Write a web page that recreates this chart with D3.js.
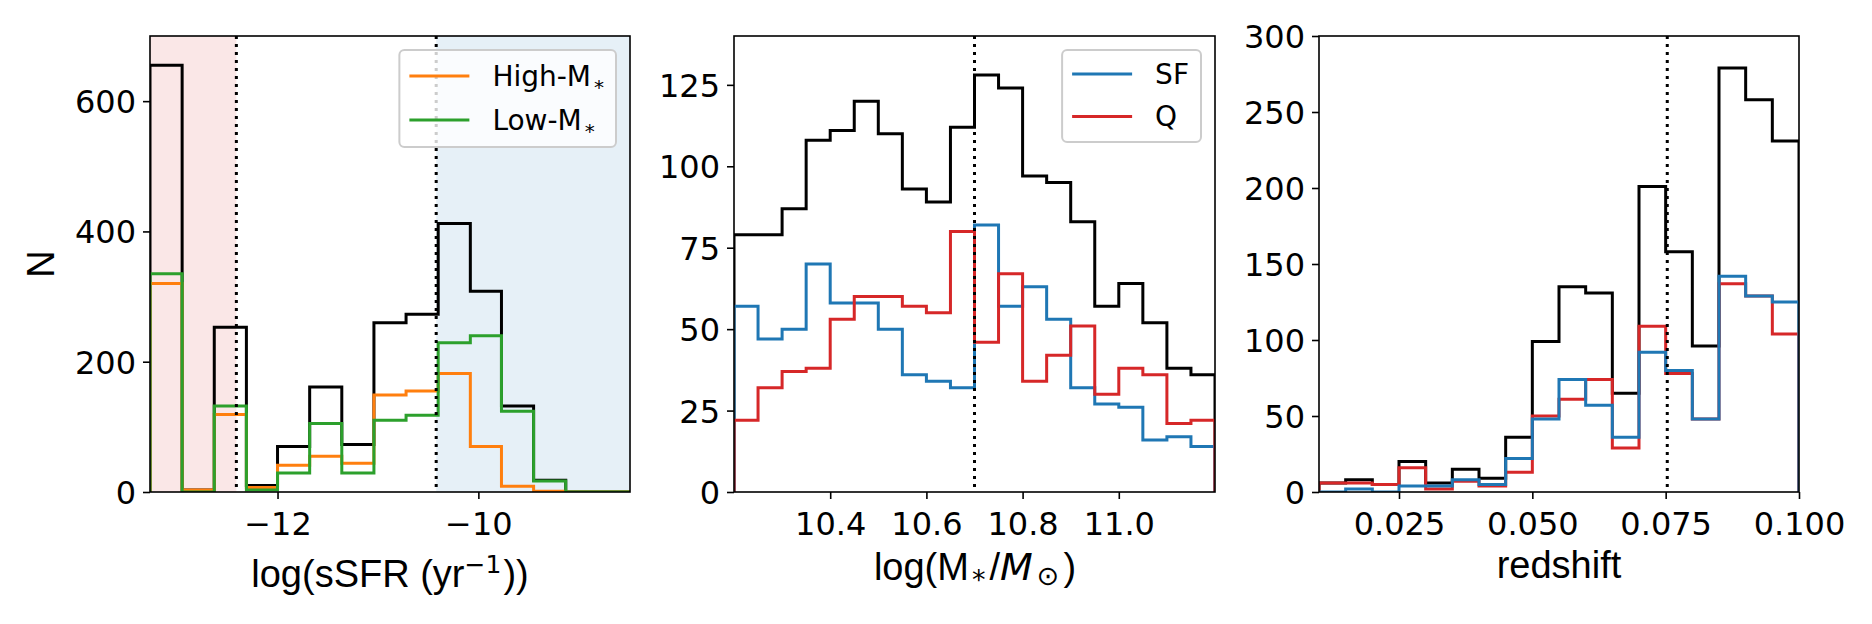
<!DOCTYPE html>
<html><head><meta charset="utf-8">
<script src="https://cdn.jsdelivr.net/npm/d3@7"></script>
<style>body{margin:0;background:#fff}</style>
</head><body><svg id="c" width="1872" height="624" xmlns="http://www.w3.org/2000/svg"></svg>
<script>
// ---------- data ----------
const ssfrEdges = [-13.27,-12.95,-12.63,-12.31,-12.00,-11.68,-11.36,-11.04,-10.72,-10.40,-10.08,-9.77,-9.45,-9.13,-8.81,-8.49];
const ssfrAll  = [655,3,253,10,70,161,73,260,273,412,308,132,18,0,0];
const ssfrHigh = [320,3,119,7,41,55,44,149,155,182,70,9,1,0,0];
const ssfrLow  = [335,0,132,3,29,105,29,110,118,229,240,124,17,0,0];
const ssfrCuts = [-12.41,-10.42];
const ssfrXTicks = [-12,-10];
const ssfrYTicks = [0,200,400,600];

const massEdges = [10.20,10.25,10.30,10.35,10.40,10.45,10.50,10.55,10.60,10.65,10.70,10.75,10.80,10.85,10.90,10.95,11.00,11.05,11.10,11.15,11.20];
const massAll = [79,79,87,108,111,120,110,93,89,112,128,124,97,95,83,57,64,52,38,36];
const massSF  = [57,47,50,70,58,58,50,36,34,32,82,57,63,53,32,27,26,16,17,14];
const massQ   = [22,32,37,38,53,60,60,57,55,80,46,67,34,42,51,30,38,36,21,22];
const massCut = [10.70];
const massXTicks = [10.4,10.6,10.8,11.0];
const massYTicks = [0,25,50,75,100,125];

const zEdges = [0.010,0.015,0.020,0.025,0.030,0.035,0.040,0.045,0.050,0.055,0.060,0.065,0.070,0.075,0.080,0.085,0.090,0.095,0.100];
const zAll = [6,8,5,20,6,15,9,36,99,135,131,65,201,158,96,279,258,231];
const zSF  = [0,2,0,4,4,8,5,22,48,74,57,36,92,80,48,142,129,125];
const zQ   = [6,6,5,16,2,7,4,13,50,61,74,29,109,78,48,137,129,104];
const zCut = [0.0753];
const zXTicks = [0.025,0.050,0.075,0.100];
const zYTicks = [0,50,100,150,200,250,300];

// ---------- style ----------
const C = {black:"#000000", orange:"#ff7f0e", green:"#2ca02c", blue:"#1f77b4", red:"#d62728"};
const TICKFONT = "'DejaVu Sans', sans-serif";
const LABFONT = "'Liberation Sans', Arial, Helvetica, sans-serif";
const Y0 = 36, Y1 = 492;

const svg = d3.select("#c");

function stepPoints(edges, vals) {
  const pts = [[edges[0], 0]];
  vals.forEach((v, i) => { pts.push([edges[i], v]); pts.push([edges[i+1], v]); });
  pts.push([edges[edges.length-1], 0]);
  return pts;
}

function makePanel(o) {
  const g = svg.append("g");
  const x = d3.scaleLinear().domain(o.xdom).range([o.x0, o.x1]);
  const y = d3.scaleLinear().domain(o.ydom).range([Y1, Y0]);
  const cid = "clip" + o.id;
  svg.append("defs").append("clipPath").attr("id", cid)
    .append("rect").attr("x", o.x0).attr("y", Y0).attr("width", o.x1 - o.x0).attr("height", Y1 - Y0);
  const pl = g.append("g").attr("clip-path", `url(#${cid})`);
  // shaded spans
  (o.spans || []).forEach(s => {
    pl.append("rect").attr("x", x(s.a)).attr("y", Y0).attr("width", x(s.b) - x(s.a)).attr("height", Y1 - Y0)
      .attr("fill", s.color).attr("fill-opacity", 0.11);
  });
  // histograms
  const line = d3.line().x(d => x(d[0])).y(d => y(d[1]));
  o.series.forEach(s => {
    pl.append("path").attr("d", line(stepPoints(o.edges, s.vals)))
      .attr("fill", "none").attr("stroke", s.color).attr("stroke-width", 3).attr("stroke-linejoin", "miter");
  });
  // dotted lines
  o.cuts.forEach(c => {
    pl.append("line").attr("x1", x(c)).attr("x2", x(c)).attr("y1", Y0).attr("y2", Y1)
      .attr("stroke", "#000").attr("stroke-width", 3).attr("stroke-dasharray", "3,5");
  });
  // axes
  const xa = g.append("g").attr("transform", `translate(0,${Y1})`)
    .call(d3.axisBottom(x).tickValues(o.xticks).tickSize(7).tickPadding(7).tickFormat(o.xfmt));
  const ya = g.append("g").attr("transform", `translate(${o.x0},0)`)
    .call(d3.axisLeft(y).tickValues(o.yticks).tickSize(7).tickPadding(7).tickFormat(d3.format("d")));
  [xa, ya].forEach(a => {
    a.select(".domain").remove();
    a.selectAll(".tick line").attr("stroke", "#000").attr("stroke-width", 1.6);
    a.selectAll(".tick text").attr("font-family", TICKFONT).attr("font-size", 32).attr("fill", "#000");
  });
  xa.selectAll(".tick text").attr("dy", null).attr("y", 43);
  ya.selectAll(".tick text").attr("dy", null).attr("y", 11.5).attr("x", -14);
  // spines
  g.append("rect").attr("x", o.x0).attr("y", Y0).attr("width", o.x1 - o.x0).attr("height", Y1 - Y0)
    .attr("fill", "none").attr("stroke", "#000").attr("stroke-width", 1.6);
  // legend
  if (o.legend) {
    const L = o.legend;
    const lg = g.append("g");
    const box = lg.append("rect");
    const tx = [];
    L.items.forEach((it, i) => {
      const ly = Y0 + L.first + i * L.sp;
      lg.append("line").attr("x1", 0).attr("x2", 60).attr("y1", ly).attr("y2", ly)
        .attr("stroke", it.color).attr("stroke-width", 3);
      const t = lg.append("text").attr("x", 83).attr("y", ly + 9.5)
        .attr("font-family", TICKFONT).attr("font-size", 28).attr("fill", "#000");
      t.append("tspan").text(it.label);
      if (it.sub) t.append("tspan").attr("dx", 3).attr("dy", 8).attr("font-size", 20).text(it.sub);
      tx.push(t);
    });
    const tw = d3.max(tx, t => t.node().getBBox().width);
    const bw = 10 + 83 + tw + 12;
    const bx = o.x1 - 14 - bw;
    lg.attr("transform", `translate(${bx + 10},0)`);
    box.attr("x", -10).attr("y", Y0 + 14).attr("width", bw).attr("height", L.h)
      .attr("rx", 5).attr("fill", "#fff").attr("fill-opacity", 0.8)
      .attr("stroke", "#cccccc").attr("stroke-width", 2);
  }
  return {g, x, y};
}

// Panel 1
const p1 = makePanel({
  id: 1, x0: 150, x1: 630, xdom: [-13.27, -8.49], ydom: [0, 700],
  edges: ssfrEdges,
  series: [{vals: ssfrAll, color: C.black}, {vals: ssfrHigh, color: C.orange}, {vals: ssfrLow, color: C.green}],
  spans: [{a: -13.27, b: ssfrCuts[0], color: C.red}, {a: ssfrCuts[1], b: -8.49, color: C.blue}],
  cuts: ssfrCuts, xticks: ssfrXTicks, yticks: ssfrYTicks,
  xfmt: d => d3.format("d")(d).replace("-", "\u2212"),
  legend: {first: 40, sp: 44, h: 97, items: [
    {label: "High-M", sub: "*", color: C.orange},
    {label: "Low-M", sub: "*", color: C.green}]}
});
// Panel 2
const p2 = makePanel({
  id: 2, x0: 734, x1: 1215, xdom: [10.2, 11.2], ydom: [0, 140],
  edges: massEdges,
  series: [{vals: massAll, color: C.black}, {vals: massSF, color: C.blue}, {vals: massQ, color: C.red}],
  cuts: massCut, xticks: massXTicks, yticks: massYTicks,
  xfmt: d3.format(".1f"),
  legend: {first: 38, sp: 42.5, h: 92, items: [
    {label: "SF", color: C.blue},
    {label: "Q", color: C.red}]}
});
// Panel 3
const p3 = makePanel({
  id: 3, x0: 1319, x1: 1799, xdom: [0.01, 0.1], ydom: [0, 300],
  edges: zEdges,
  series: [{vals: zAll, color: C.black}, {vals: zQ, color: C.red}, {vals: zSF, color: C.blue}],
  cuts: zCut, xticks: zXTicks, yticks: zYTicks,
  xfmt: d3.format(".3f")
});

// Axis labels
const l1 = svg.append("text").attr("x", 390).attr("y", 587).attr("text-anchor", "middle")
  .attr("font-family", LABFONT).attr("font-size", 38).attr("fill", "#000");
l1.append("tspan").text("log(sSFR (yr");
l1.append("tspan").attr("dy", -14).attr("font-size", 25).attr("font-family", TICKFONT).text("\u22121");
l1.append("tspan").attr("dy", 14).attr("dx", 2).text("))");

const l2 = svg.append("text").attr("x", 975).attr("y", 580).attr("text-anchor", "middle")
  .attr("font-family", LABFONT).attr("font-size", 38).attr("fill", "#000");
l2.append("tspan").text("log(M");
l2.append("tspan").attr("dx", 3).attr("dy", 9).attr("font-size", 27).attr("font-family", TICKFONT).text("*");
l2.append("tspan").attr("dx", 4).attr("dy", -9).text("/");
l2.append("tspan").attr("font-family", TICKFONT).attr("font-style", "italic").text("M");
l2.append("tspan").attr("dx", 4).attr("dy", 5).attr("font-size", 27).attr("font-family", TICKFONT).text("\u2299");
l2.append("tspan").attr("dx", 4).attr("dy", -5).text(")");

svg.append("text").attr("x", 1559).attr("y", 578).attr("text-anchor", "middle")
  .attr("font-family", LABFONT).attr("font-size", 38).attr("fill", "#000").text("redshift");

svg.append("text").attr("transform", "translate(54,264) rotate(-90)").attr("text-anchor", "middle")
  .attr("font-family", LABFONT).attr("font-size", 38).attr("fill", "#000").text("N");
</script></body></html>
